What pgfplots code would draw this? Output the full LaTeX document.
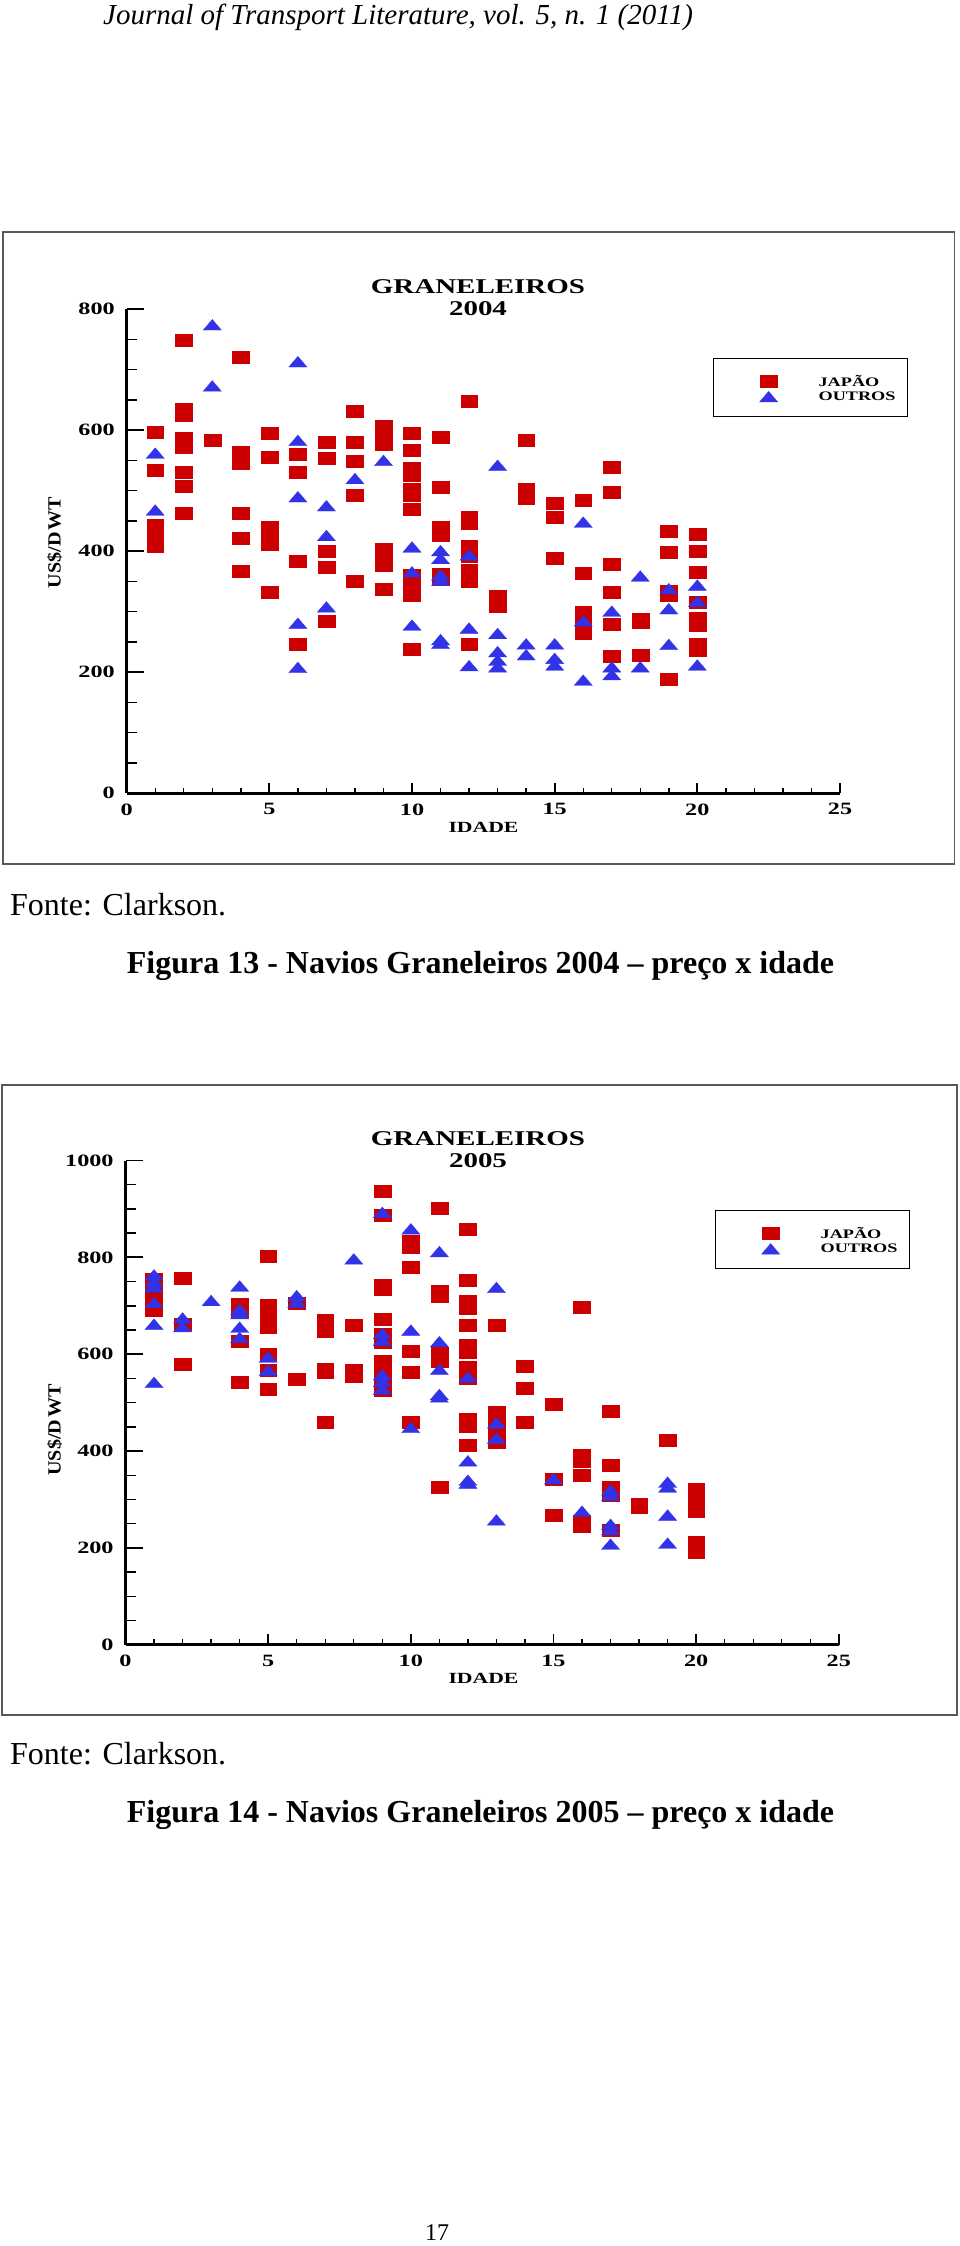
\documentclass[border=0pt]{standalone}
\usepackage{fontspec}
\setmainfont{Liberation Serif}
\newfontfamily\chartfont[FakeStretch=1.4]{Liberation Serif}
\newfontfamily\titlefont[FakeStretch=1.38]{Liberation Serif}
\newfontfamily\labfont[FakeStretch=1.08]{Liberation Serif}
\usepackage{pgfplots}
\usepackage{pgfplotstable}
\pgfplotsset{compat=1.18}
\definecolor{jred}{RGB}{204,0,0}
\definecolor{oblue}{RGB}{50,50,230}
\newcommand{\legfont}{\chartfont\bfseries\fontsize{13}{13}\selectfont}

\pgfplotstableread{
x y
1 596
1 534
1 443
1 426
1 409
2 748
2 634
2 624
2 586
2 572
2 530
2 508
2 463
3 584
4 721
4 563
4 546
4 462
4 421
4 367
5 595
5 555
5 440
5 421
5 411
5 333
6 560
6 530
6 384
6 246
7 580
7 553
7 400
7 374
7 284
8 631
8 580
8 549
8 493
8 351
9 607
9 592
9 577
9 404
9 390
9 377
9 338
10 595
10 567
10 537
10 525
10 502
10 493
10 470
10 360
10 347
10 328
10 238
11 589
11 505
11 439
11 426
11 362
11 354
12 648
12 457
12 446
12 409
12 391
12 369
12 350
12 246
13 326
13 309
14 584
14 502
14 487
15 480
15 457
15 388
16 484
16 363
16 299
16 281
16 264
17 539
17 498
17 378
17 333
17 279
17 227
18 287
18 283
18 228
19 433
19 399
19 334
19 327
19 188
20 428
20 400
20 365
20 316
20 290
20 278
20 246
20 237
}\japA

\pgfplotstableread{
x y
1 562
1 468
3 774
3 673
6 713
6 583
6 490
6 281
6 208
7 475
7 426
7 308
8 520
9 550
10 407
10 366
10 278
11 401
11 388
11 361
11 352
11 254
11 248
12 394
12 273
12 211
13 542
13 264
13 234
13 220
13 209
14 247
14 229
15 247
15 223
15 212
16 448
16 285
16 187
17 301
17 209
17 196
18 359
18 209
19 338
19 305
19 246
20 344
20 317
20 212
}\outA

\pgfplotstableread{
x y
1 756
1 736
1 714
1 692
2 757
2 662
2 579
4 704
4 688
4 627
4 542
5 803
5 702
5 679
5 655
5 601
5 567
5 528
6 706
6 549
7 670
7 648
7 569
7 563
7 460
8 660
8 568
8 555
9 937
9 887
9 743
9 734
9 673
9 641
9 624
9 585
9 565
9 544
9 525
10 834
10 822
10 780
10 606
10 564
10 460
11 902
11 730
11 720
11 602
11 585
11 326
12 859
12 752
12 709
12 695
12 660
12 618
12 604
12 574
12 551
12 466
12 451
12 412
13 660
13 480
13 458
13 437
13 418
14 575
14 529
14 460
15 497
15 343
15 267
16 697
16 391
16 380
16 350
16 256
16 245
17 483
17 370
17 326
17 309
17 237
18 290
18 284
19 422
20 322
20 299
20 276
20 212
20 192
}\japB

\pgfplotstableread{
x y
1 764
1 750
1 739
1 707
1 662
1 542
2 675
2 657
3 711
4 741
4 693
4 684
4 656
4 635
5 594
5 567
6 721
6 707
8 797
9 893
9 643
9 629
9 558
9 544
9 528
10 859
10 650
10 449
11 812
11 626
11 569
11 517
11 512
12 553
12 380
12 340
12 334
13 738
13 458
13 427
13 258
15 343
16 276
17 320
17 309
17 249
17 238
17 208
19 336
19 326
19 268
19 210
}\outB

\pgfplotsset{
  leg/.style={legend image code/.code={\draw[##1] plot coordinates {(0pt,0pt)};\path[draw=none,fill=none] (-55pt,-6.2pt) rectangle (10pt,9.1pt);}},
  redmarks/.style={only marks, mark=square*, color=jred, mark size=6pt,
     mark options={xscale=1.4, line width=0.3pt, fill=jred, draw=jred}, leg},
  bluemarks/.style={only marks, mark=triangle*, color=oblue, mark size=7.1pt,
     mark options={xscale=1.48, yshift=-1.78pt, line width=0.3pt, fill=oblue, draw=oblue}, leg},
  base/.style={
    scale only axis, width=713.3pt, height=484.3pt,
    xmin=0, xmax=25, ymin=0,
    axis lines=left, axis line style={-, line width=3.2pt, black},
    tick align=inside, clip=false,
    major tick style={line width=1.9pt, black},
    minor tick style={line width=1.4pt, black},
    /pgf/number format/assume math mode=true,
    /pgf/number format/1000 sep={},
    tick label style={font=\chartfont\bfseries\fontsize{17.3}{17.3}\selectfont},
  },
  yaxisA/.style={base, xtick=\empty, ytick distance=200, minor y tick num=3,
    major tick length=17pt, minor tick length=10pt,
    yticklabel style={anchor=east, inner sep=0pt, xshift=-11.7pt},
    legend cell align=left,
    legend style={anchor=north west, draw=black, line width=1.2pt, fill=white,
      inner xsep=0pt, inner ysep=13.6pt, row sep=0pt, column sep=40pt,
      nodes={inner sep=0pt},
      font=\legfont}},
  xaxisB/.style={base, ytick=\empty, xtick={0,5,...,25}, minor x tick num=4,
    major tick length=10.5pt, minor tick length=5.5pt,
    xticklabel style={anchor=north, inner sep=0pt, yshift=-10pt}},
}

\begin{document}
\begin{tikzpicture}
\path[use as bounding box] (0,0) rectangle (960pt,-2246pt);

\node[anchor=base west, inner sep=0pt, font=\itshape\fontsize{29}{29}\selectfont] at (103pt,-24pt) {Journal of Transport Literature, vol. 5, n. 1 (2011)};

% ---------------- Chart 1 ----------------
\draw[line width=1.8pt, black!65] (3.3pt,-231.7pt) rectangle (954.5pt,-864pt);
\node[anchor=base, inner sep=0pt, font=\titlefont\bfseries\fontsize{21}{21}\selectfont] at (478pt,-293pt) {GRANELEIROS};
\node[anchor=base, inner sep=0pt, font=\titlefont\bfseries\fontsize{21}{21}\selectfont] at (478pt,-315.5pt) {2004};
\node[rotate=90, inner sep=0pt, font=\labfont\bfseries\fontsize{18.6}{18.6}\selectfont] at (54.5pt,-542.5pt) {US\$/D\kern2pt WT};
\node[inner sep=0pt, font=\chartfont\bfseries\fontsize{15.5}{15.5}\selectfont] at (483.5pt,-827.7pt) {IDADE};

\begin{axis}[yaxisA, at={(126.7pt,-793.3pt)}, anchor=south west, ymax=800,
  legend style={at={(0.822,0.899)}}]
\addplot[redmarks] table {\japA};
\addlegendentry{\legfont JAPÃO}
\addplot[bluemarks] table {\outA};
\addlegendentry{\legfont OUTROS\hspace*{12pt}}
\end{axis}
\begin{axis}[xaxisB, at={(126.7pt,-793.3pt)}, anchor=south west, ymax=800]
\end{axis}

\node[anchor=base west, inner sep=0pt, font=\fontsize{32}{32}\selectfont] at (10pt,-915pt) {Fonte: Clarkson.};
\node[anchor=base, inner sep=0pt, font=\bfseries\fontsize{32}{32}\selectfont] at (480.5pt,-973pt) {Figura 13 - Navios Graneleiros 2004 – preço x idade};

% ---------------- Chart 2 ----------------
\draw[line width=1.8pt, black!65] (2pt,-1085pt) rectangle (957pt,-1715pt);
\node[anchor=base, inner sep=0pt, font=\titlefont\bfseries\fontsize{21}{21}\selectfont] at (478pt,-1145pt) {GRANELEIROS};
\node[anchor=base, inner sep=0pt, font=\titlefont\bfseries\fontsize{21}{21}\selectfont] at (478pt,-1167pt) {2005};
\node[rotate=90, inner sep=0pt, font=\labfont\bfseries\fontsize{18.6}{18.6}\selectfont] at (54.5pt,-1430pt) {US\$/D\kern2pt WT};
\node[inner sep=0pt, font=\chartfont\bfseries\fontsize{15.5}{15.5}\selectfont] at (483.5pt,-1678pt) {IDADE};

\begin{axis}[yaxisA, at={(125.5pt,-1644.8pt)}, anchor=south west, ymax=1000,
  legend style={at={(0.8265,0.8976)}}]
\addplot[redmarks] table {\japB};
\addlegendentry{\legfont JAPÃO}
\addplot[bluemarks] table {\outB};
\addlegendentry{\legfont OUTROS\hspace*{12pt}}
\end{axis}
\begin{axis}[xaxisB, at={(125.5pt,-1644.8pt)}, anchor=south west, ymax=1000]
\end{axis}

\node[anchor=base west, inner sep=0pt, font=\fontsize{32}{32}\selectfont] at (10pt,-1764pt) {Fonte: Clarkson.};
\node[anchor=base, inner sep=0pt, font=\bfseries\fontsize{32}{32}\selectfont] at (480.5pt,-1822pt) {Figura 14 - Navios Graneleiros 2005 – preço x idade};

\node[anchor=base, inner sep=0pt, font=\fontsize{24}{24}\selectfont] at (437pt,-2240pt) {17};
\end{tikzpicture}
\end{document}
